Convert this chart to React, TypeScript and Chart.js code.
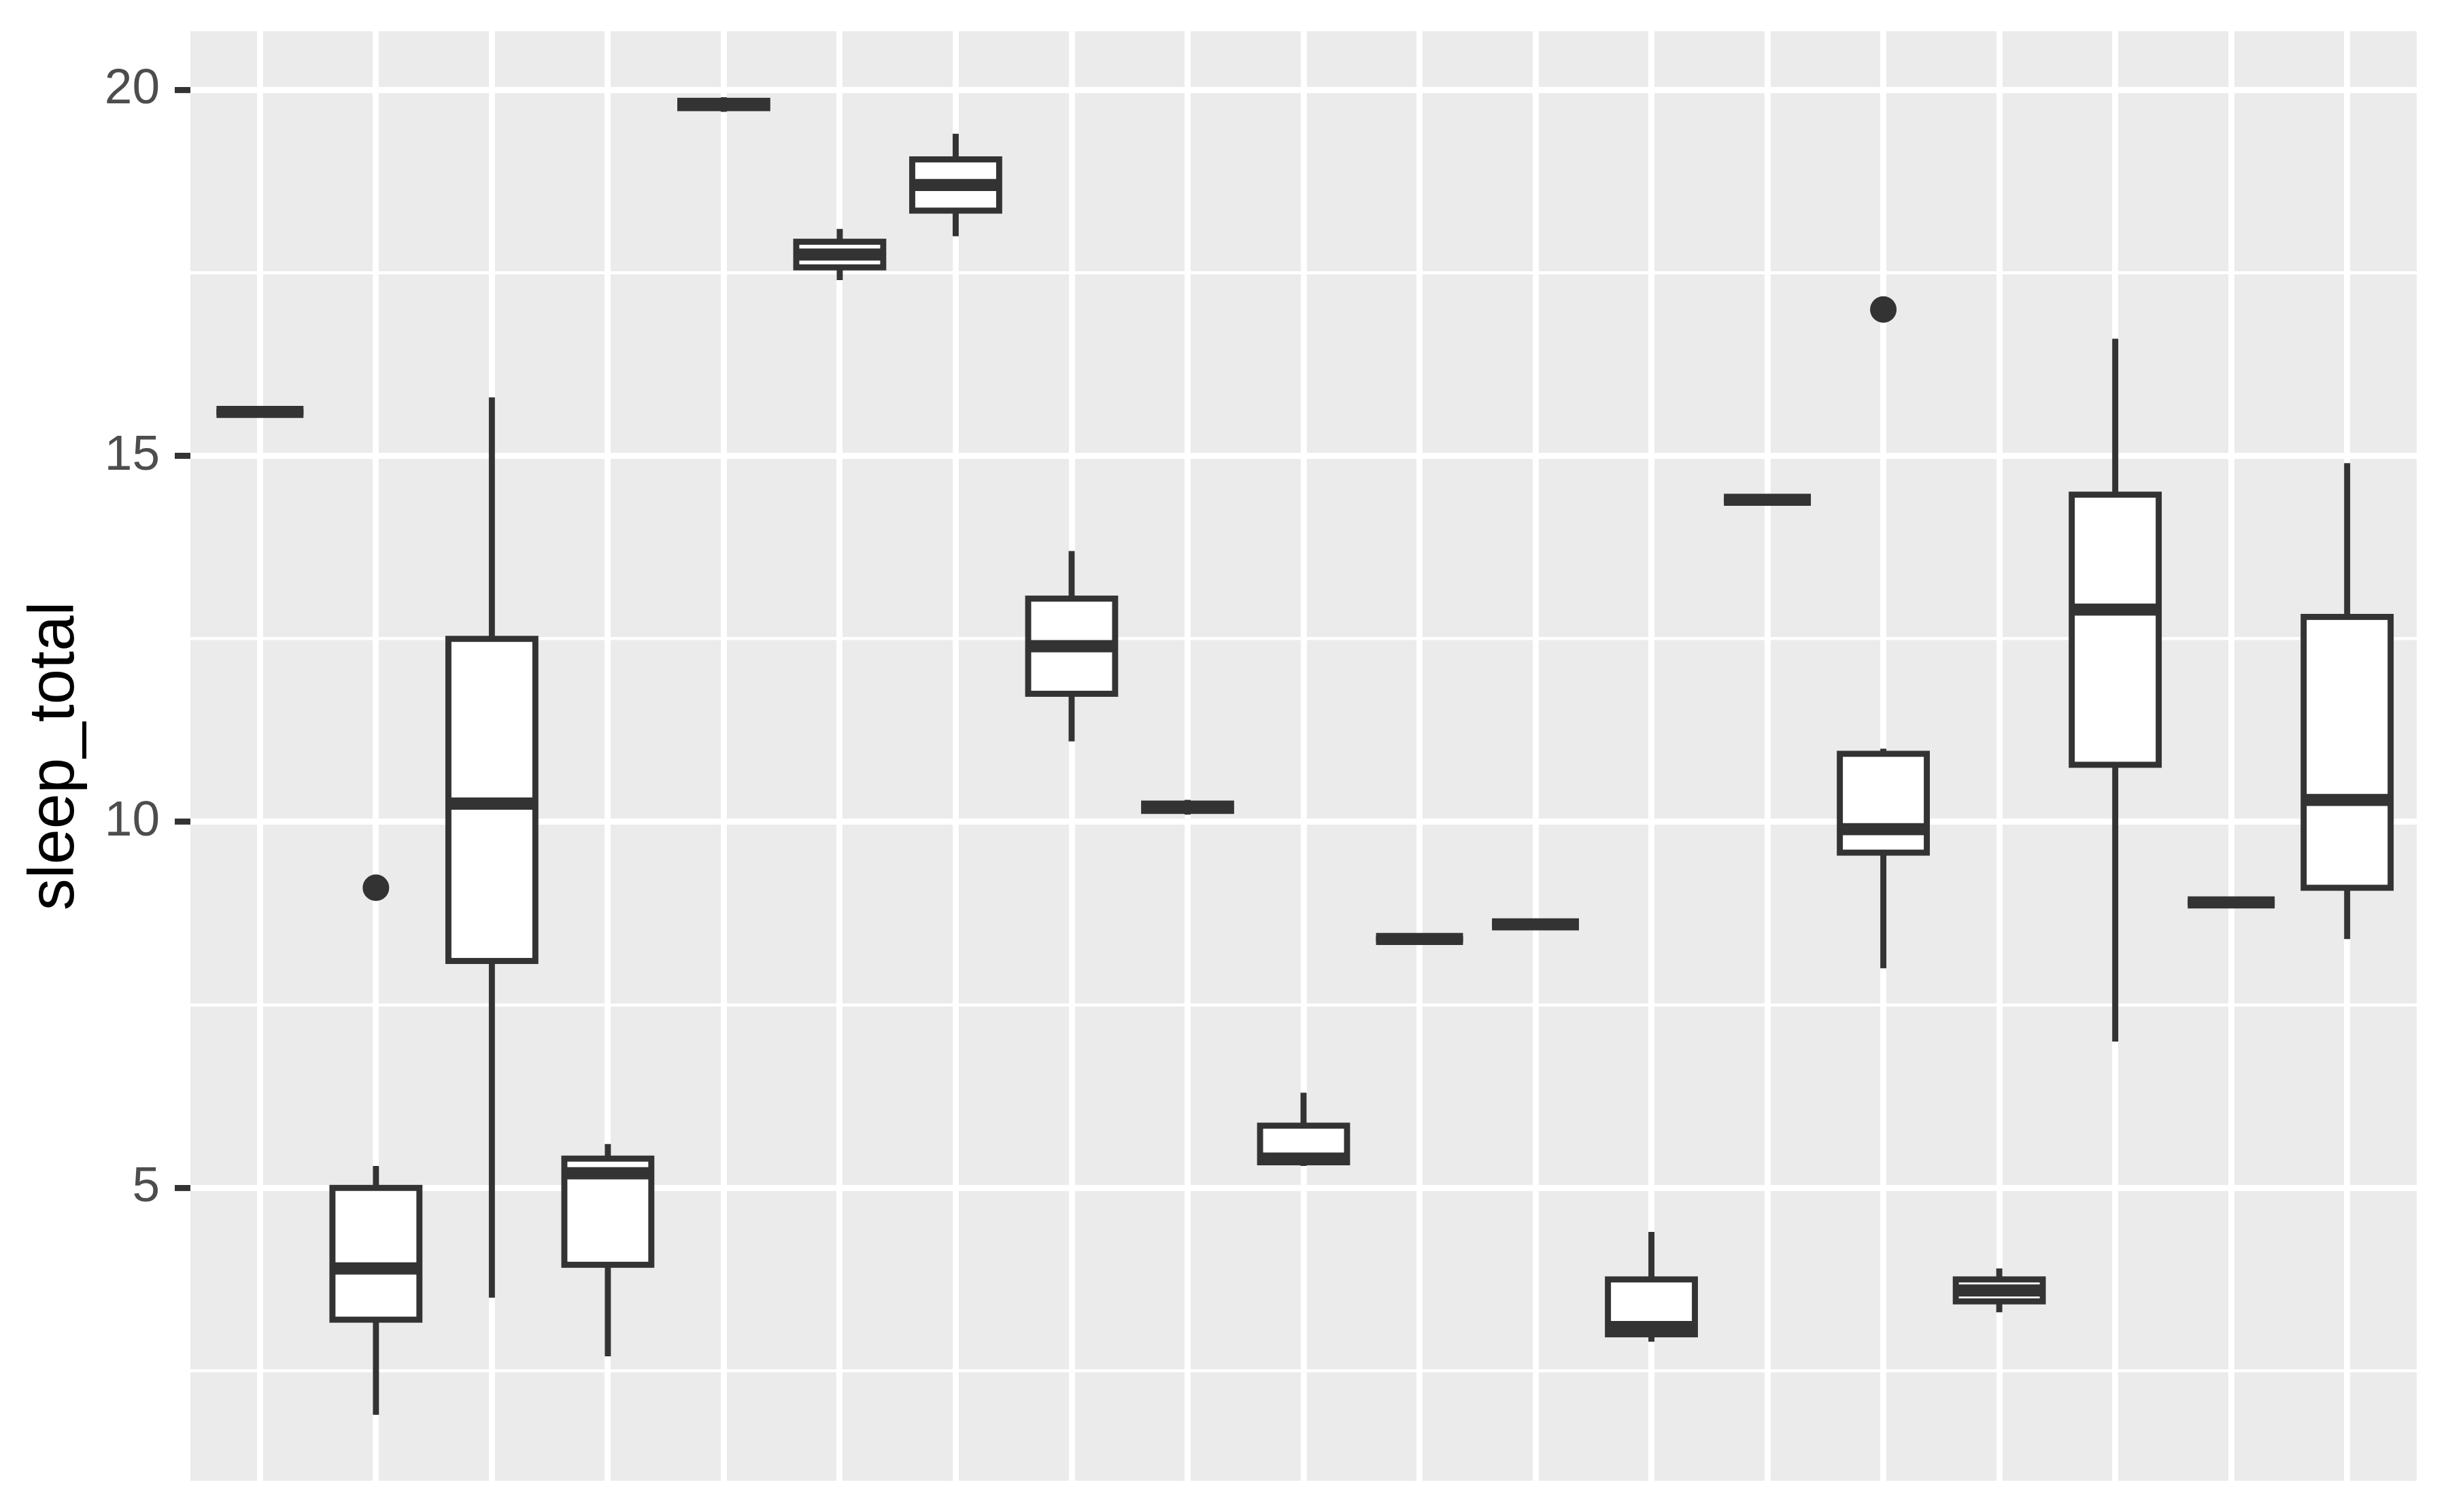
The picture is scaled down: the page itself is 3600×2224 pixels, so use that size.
import React, { useEffect, useRef } from 'react';
import { Chart, registerables } from 'chart.js';

Chart.register(...registerables);

// Categories (mammal orders) — not labelled on the axis in the reference
const orders = [
  'Afrosoricida', 'Artiodactyla', 'Carnivora', 'Cetacea', 'Chiroptera',
  'Cingulata', 'Didelphimorphia', 'Diprotodontia', 'Erinaceomorpha', 'Hyracoidea',
  'Lagomorpha', 'Monotremata', 'Perissodactyla', 'Pilosa', 'Primates',
  'Proboscidea', 'Rodentia', 'Scandentia', 'Soricomorpha',
];

// Box-plot statistics of sleep_total
const whiskerLow = [15.6, 1.9, 3.5, 2.7, 19.7, 17.4, 18.0, 11.1, 10.1, 5.3, 8.4, 8.6, 2.9, 14.4, 8.0, 3.3, 7.0, 8.9, 8.4];
const q1 = [15.6, 3.2, 8.1, 3.95, 19.75, 17.575, 18.35, 11.75, 10.15, 5.35, 8.4, 8.6, 3.0, 14.4, 9.58, 3.45, 10.78, 8.9, 9.1];
const median = [15.6, 3.9, 10.25, 5.2, 19.8, 17.75, 18.7, 12.4, 10.2, 5.4, 8.4, 8.6, 3.1, 14.4, 9.9, 3.6, 12.9, 8.9, 10.3];
const q3 = [15.6, 5.0, 12.5, 5.4, 19.85, 17.925, 19.05, 13.05, 10.25, 5.85, 8.4, 8.6, 3.75, 14.4, 10.93, 3.75, 14.47, 8.9, 12.8];
const whiskerHigh = [15.6, 5.3, 15.8, 5.6, 19.9, 18.1, 19.4, 13.7, 10.3, 6.3, 8.4, 8.6, 4.4, 14.4, 11.0, 3.9, 16.6, 8.9, 14.9];

// Outliers
const outlierOrder = ['Artiodactyla', 'Primates'];
const outlierValue = [9.1, 17.0];

// Y axis ticks (minor ones carry an empty label)
const yTickValues = [2.5, 5, 7.5, 10, 12.5, 15, 17.5, 20];
const yTickLabels = ['', '5', '', '10', '', '15', '', '20'];
const yTitle = 'sleep_total';

const INK = '#333333';
const LW = 8.9;
const FONT = 'Liberation Sans, Arial, Helvetica, sans-serif';

export default function App() {
  const ref = useRef<HTMLCanvasElement>(null);

  useEffect(() => {
    const canvas = ref.current;
    if (!canvas) return;

    const xs = orders.map((_, i) => i + 1);
    const all = [...whiskerLow, ...whiskerHigh, ...outlierValue];
    const lo = Math.min(...all);
    const hi = Math.max(...all);
    const pad = (hi - lo) * 0.05;

    const isMajor = (v: any) => {
      const k = yTickValues.indexOf(Number(v));
      return k >= 0 && yTickLabels[k] !== '';
    };

    const panelBg = {
      id: 'panelBg',
      beforeDraw(chart: any) {
        const { ctx, chartArea: a } = chart;
        ctx.save();
        ctx.fillStyle = '#EBEBEB';
        ctx.fillRect(a.left, a.top, a.right - a.left, a.bottom - a.top);
        ctx.restore();
      },
    };

    const boxParts = {
      id: 'boxParts',
      beforeDatasetsDraw(chart: any) {
        const { ctx } = chart;
        const xS = chart.scales.x;
        const yS = chart.scales.y;
        ctx.save();
        ctx.strokeStyle = INK;
        ctx.lineWidth = LW;
        ctx.lineCap = 'butt';
        xs.forEach((v, i) => {
          const px = xS.getPixelForValue(v);
          ctx.beginPath();
          ctx.moveTo(px, yS.getPixelForValue(whiskerHigh[i]));
          ctx.lineTo(px, yS.getPixelForValue(q3[i]));
          ctx.moveTo(px, yS.getPixelForValue(q1[i]));
          ctx.lineTo(px, yS.getPixelForValue(whiskerLow[i]));
          ctx.stroke();
        });
        ctx.restore();
      },
      afterDatasetDraw(chart: any, args: any) {
        if (args.index !== 0) return;
        const { ctx } = chart;
        const yS = chart.scales.y;
        const meta = chart.getDatasetMeta(0);
        ctx.save();
        ctx.strokeStyle = INK;
        ctx.lineCap = 'butt';
        ctx.lineJoin = 'miter';
        meta.data.forEach((bar: any, i: number) => {
          const p = bar.getProps(['x', 'y', 'base', 'width'], true);
          const top = Math.min(p.y, p.base);
          const bottom = Math.max(p.y, p.base);
          const left = p.x - p.width / 2;
          ctx.lineWidth = LW;
          ctx.strokeRect(left, top, p.width, bottom - top);
          const my = yS.getPixelForValue(median[i]);
          ctx.lineWidth = LW * 2;
          ctx.beginPath();
          ctx.moveTo(left, my);
          ctx.lineTo(left + p.width, my);
          ctx.stroke();
        });
        ctx.restore();
      },
    };

    const chart = new Chart(canvas, {
      type: 'bar',
      data: {
        datasets: [
          {
            type: 'bar',
            label: yTitle,
            data: xs.map((v, i) => ({ x: v, y: [q1[i], q3[i]] })) as any,
            backgroundColor: '#FFFFFF',
            borderWidth: 0,
            barPercentage: 0.75,
            categoryPercentage: 1,
            order: 2,
          } as any,
          {
            type: 'scatter',
            label: 'outliers',
            data: outlierOrder.map((o, k) => ({ x: orders.indexOf(o) + 1, y: outlierValue[k] })),
            backgroundColor: INK,
            borderWidth: 0,
            pointRadius: 19.5,
            pointHoverRadius: 19.5,
            order: 1,
          } as any,
        ],
      },
      options: {
        responsive: false,
        devicePixelRatio: 1,
        animation: false,
        events: [],
        layout: { padding: { left: 0, top: 46, right: 46, bottom: 46 } },
        plugins: {
          legend: { display: false },
          tooltip: { enabled: false },
        },
        scales: {
          x: {
            type: 'linear',
            min: 0.4,
            max: orders.length + 0.6,
            bounds: 'data',
            offset: false,
            afterBuildTicks: (s: any) => {
              s.ticks = xs.map((v) => ({ value: v }));
            },
            afterFit: (s: any) => {
              s.height = 0;
              s.paddingLeft = 0;
              s.paddingRight = 0;
            },
            ticks: { display: false },
            grid: { color: '#FFFFFF', lineWidth: LW, drawTicks: false, offset: false },
            border: { display: false },
          } as any,
          y: {
            type: 'linear',
            min: lo - pad,
            max: hi + pad,
            bounds: 'data',
            afterBuildTicks: (s: any) => {
              s.ticks = yTickValues.map((v) => ({ value: v }));
            },
            afterFit: (s: any) => {
              s.width = 280;
              s.paddingTop = 0;
              s.paddingBottom = 0;
            },
            ticks: {
              autoSkip: false,
              padding: 22,
              color: '#4D4D4D',
              font: { family: FONT, size: 73 },
              callback: (v: any) => {
                const k = yTickValues.indexOf(Number(v));
                return k >= 0 ? yTickLabels[k] : '';
              },
            },
            grid: {
              color: '#FFFFFF',
              lineWidth: (c: any) => (c.tick && isMajor(c.tick.value) ? LW : LW / 2),
              drawTicks: true,
              tickLength: 23,
              tickWidth: LW,
              tickColor: (c: any) => (c.tick && isMajor(c.tick.value) ? INK : 'rgba(0,0,0,0)'),
            },
            border: { display: false },
            title: {
              display: true,
              text: yTitle,
              color: '#000000',
              font: { family: FONT, size: 94 },
              padding: { top: 26, bottom: 0 },
            },
          } as any,
        },
      },
      plugins: [panelBg, boxParts],
    } as any);

    return () => chart.destroy();
  }, []);

  return (
    <div style={{ position: 'absolute', left: 0, top: 0, width: 3600, height: 2224, background: '#FFFFFF' }}>
      <canvas ref={ref} width={3600} height={2224} style={{ display: 'block' }} />
    </div>
  );
}
